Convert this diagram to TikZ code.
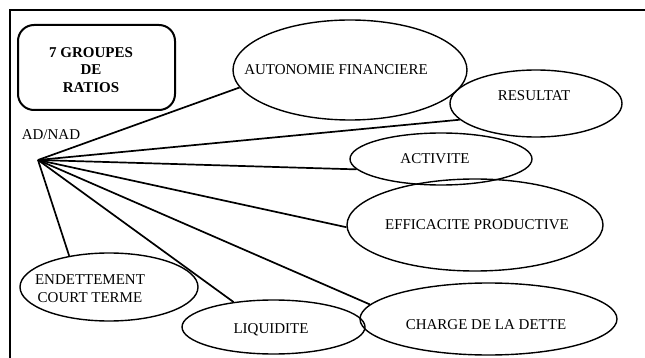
\documentclass[tikz,border=0pt]{standalone}
\usepackage{fontspec}
\setmainfont{Liberation Serif}
\usetikzlibrary{shapes.geometric}
\tikzset{
  ell/.style={draw, ellipse, line width=1.4pt, inner sep=0pt},
  lbl/.style={font=\fontsize{15}{18}\selectfont, align=center, inner sep=0pt},
  conn/.style={line width=1.7pt},
  titlebox/.style={draw, rounded corners=16pt, line width=2pt, inner sep=0pt}
}
\begin{document}
\begin{tikzpicture}[x=1pt,y=-1pt]
\useasboundingbox (0,0) rectangle (645,358);
% frame
\draw[line width=2pt] (10,358) -- (10,10) -- (645,10);
% title box
\node[titlebox, minimum width=157pt, minimum height=85pt] (box) at (96.5,67.5) {};
\node[lbl, font=\fontsize{15}{17.5}\selectfont\bfseries] (boxT) at (91,70) {7 GROUPES\\DE\\RATIOS};
% hub
\node[lbl] (adnad) at (51,135) {AD/NAD};
\coordinate (hub) at (38,160);
% ellipses
\node[ell, minimum width=234pt, minimum height=100pt] (autoE) at (350,70) {};
\node[lbl] (autoT) at (336,70) {AUTONOMIE FINANCIERE};
\node[ell, minimum width=172pt, minimum height=67pt] (resE) at (536,103.5) {};
\node[lbl] (resT) at (534,96) {RESULTAT};
\node[ell, minimum width=182pt, minimum height=52pt] (actE) at (441,159) {};
\node[lbl] (actT) at (435,159) {ACTIVITE};
\node[ell, minimum width=256pt, minimum height=92pt] (effE) at (475,225) {};
\node[lbl] (effT) at (477,225) {EFFICACITE PRODUCTIVE};
\node[ell, minimum width=257pt, minimum height=72pt] (chE) at (488.5,319) {};
\node[lbl] (chT) at (486,325) {CHARGE DE LA DETTE};
\node[ell, minimum width=183pt, minimum height=54pt] (liqE) at (273.5,327) {};
\node[lbl] (liqT) at (271,330) {LIQUIDITE};
\node[ell, minimum width=178pt, minimum height=68pt] (endE) at (109,287) {};
\node[lbl] (endT) at (90,289) {ENDETTEMENT\\COURT TERME};
% connectors
\draw[conn] (hub) -- (autoE.189);
\draw[conn] (hub) -- (resE.192);
\draw[conn] (hub) -- (actE.187);
\draw[conn] (hub) -- (effE.181);
\draw[conn] (hub) -- (chE.173);
\draw[conn] (hub) -- (liqE.148);
\draw[conn] (hub) -- (endE.142);
\end{tikzpicture}
\end{document}
